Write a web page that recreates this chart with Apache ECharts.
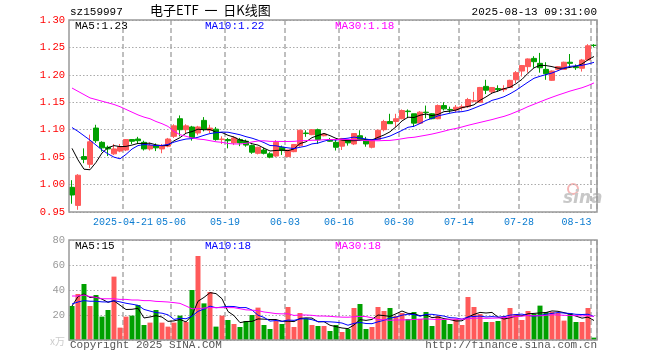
<!DOCTYPE html>
<html><head><meta charset="utf-8">
<script src="https://cdn.jsdelivr.net/npm/echarts@6/dist/echarts.min.js"></script>
<style>html,body{margin:0;padding:0;background:#fff}#c{width:660px;height:360px}</style>
</head><body><div id="c"></div>
<script>
const dates = ['2025-04-08','2025-04-09','2025-04-10','2025-04-11','2025-04-14','2025-04-15','2025-04-16','2025-04-17','2025-04-18','2025-04-21','2025-04-22','2025-04-23','2025-04-24','2025-04-25','2025-04-28','2025-04-29','2025-04-30',
'2025-05-06','2025-05-07','2025-05-08','2025-05-09','2025-05-12','2025-05-13','2025-05-14','2025-05-15','2025-05-16','2025-05-19','2025-05-20','2025-05-21','2025-05-22','2025-05-23','2025-05-26','2025-05-27','2025-05-28','2025-05-29','2025-05-30',
'2025-06-03','2025-06-04','2025-06-05','2025-06-06','2025-06-09','2025-06-10','2025-06-11','2025-06-12','2025-06-13','2025-06-16','2025-06-17','2025-06-18','2025-06-19','2025-06-20','2025-06-23','2025-06-24','2025-06-25','2025-06-26','2025-06-27','2025-06-30',
'2025-07-01','2025-07-02','2025-07-03','2025-07-04','2025-07-07','2025-07-08','2025-07-09','2025-07-10','2025-07-11','2025-07-14','2025-07-15','2025-07-16','2025-07-17','2025-07-18','2025-07-21','2025-07-22','2025-07-23','2025-07-24','2025-07-25','2025-07-28','2025-07-29','2025-07-30','2025-07-31',
'2025-08-01','2025-08-04','2025-08-05','2025-08-06','2025-08-07','2025-08-08','2025-08-11','2025-08-12','2025-08-13'];

const tickDates = ['2025-04-21','2025-05-06','2025-05-19','2025-06-03','2025-06-16','2025-06-30','2025-07-14','2025-07-28','2025-08-13'];
const tickLabels = ['2025-04-21','05-06','05-19','06-03','06-16','06-30','07-14','07-28','08-13'];

const opens  = [0.995,0.962,1.051,1.037,1.103,1.077,1.068,1.056,1.061,1.063,1.082,1.083,1.077,1.065,1.071,1.065,1.070,1.088,1.120,1.100,1.105,1.094,1.117,1.099,1.101,1.082,1.082,1.076,1.082,1.079,
1.071,1.057,1.063,1.056,1.052,1.068,1.051,1.060,1.071,1.094,1.091,1.100,1.089,1.082,1.077,1.070,1.082,1.074,1.089,1.082,1.068,1.082,1.100,1.115,1.115,1.120,1.134,1.129,1.112,1.132,
1.129,1.120,1.144,1.137,1.136,1.140,1.142,1.152,1.150,1.179,1.169,1.175,1.173,1.177,1.191,1.207,1.215,1.230,1.221,1.210,1.190,1.210,1.210,1.223,1.215,1.212,1.227,1.254];
const closes = [0.981,1.017,1.046,1.078,1.080,1.067,1.065,1.065,1.069,1.082,1.079,1.080,1.065,1.071,1.067,1.071,1.083,1.107,1.100,1.107,1.086,1.105,1.101,1.103,1.082,1.083,1.080,1.085,1.076,1.072,
1.059,1.068,1.057,1.050,1.077,1.062,1.063,1.073,1.099,1.093,1.100,1.082,1.092,1.079,1.068,1.084,1.076,1.093,1.082,1.074,1.082,1.099,1.115,1.111,1.120,1.135,1.133,1.112,1.132,1.131,
1.120,1.144,1.138,1.136,1.141,1.142,1.155,1.153,1.177,1.172,1.177,1.173,1.175,1.190,1.204,1.217,1.229,1.224,1.213,1.202,1.207,1.215,1.223,1.221,1.213,1.227,1.253,1.2535];
const lows   = [0.965,0.954,1.039,1.030,1.076,1.060,1.052,1.054,1.059,1.061,1.074,1.075,1.062,1.062,1.061,1.057,1.068,1.085,1.088,1.094,1.080,1.090,1.097,1.094,1.080,1.074,1.066,1.072,1.070,1.069,
1.056,1.055,1.055,1.048,1.050,1.054,1.050,1.059,1.069,1.087,1.090,1.074,1.088,1.078,1.062,1.063,1.071,1.072,1.080,1.069,1.066,1.081,1.097,1.111,1.105,1.119,1.121,1.105,1.111,1.121,
1.119,1.119,1.135,1.131,1.132,1.135,1.140,1.150,1.149,1.165,1.165,1.169,1.169,1.176,1.185,1.197,1.204,1.213,1.204,1.191,1.189,1.208,1.209,1.213,1.209,1.206,1.226,1.250];
const highs  = [1.008,1.019,1.066,1.091,1.109,1.079,1.071,1.074,1.074,1.083,1.083,1.087,1.080,1.077,1.075,1.074,1.085,1.110,1.126,1.110,1.107,1.107,1.123,1.109,1.105,1.088,1.085,1.088,1.085,1.082,
1.073,1.069,1.067,1.059,1.081,1.071,1.063,1.074,1.100,1.099,1.101,1.102,1.093,1.085,1.082,1.085,1.083,1.094,1.099,1.087,1.082,1.100,1.118,1.129,1.129,1.137,1.137,1.129,1.134,1.144,
1.130,1.146,1.150,1.142,1.145,1.146,1.158,1.169,1.178,1.191,1.177,1.181,1.181,1.191,1.207,1.218,1.230,1.234,1.240,1.223,1.208,1.216,1.224,1.238,1.219,1.229,1.256,1.256];

const volumes = [27.2,36.8,44.8,27.2,36,18.7,24,50.7,9.9,18.7,19.5,28,12,13.9,24,13.9,10.7,13.9,19.5,14.4,40,67.2,29.3,38.4,10.7,19.5,16,12.8,10.4,15.2,
20,25.9,12,8.8,15.2,12.8,26.4,10.4,21.6,17.3,12,11.2,11.2,7.2,12,6.4,8.8,25.6,28.8,8.8,10.4,26.4,23.2,25.6,19.2,21.6,16.8,22.4,16.8,22.4,
11.2,19.2,16,12.8,16.8,12,34.4,26.4,20.8,14.4,14.4,15.2,19.2,25.6,20.8,16,23.2,20.8,27.5,22.4,22.4,21.6,15.5,21.6,14.4,14.4,25.6,1.9];

// moving-average values read from the chart where the prior history is not shown
const ma5Head  = [1.066,1.045,1.028,1.027];
const ma10Head = [1.104,1.097,1.089,1.081,1.072,1.063,1.056,1.050,1.047];
const ma30Head = [1.176,1.170,1.164,1.158,1.155,1.152,1.149,1.146,1.142,1.137,1.132,1.127,1.123,1.120,1.115,1.111,1.106,1.097,1.091,1.088,1.085,1.083,1.082,1.080,1.078,1.077,1.075,1.074,1.074];
const vma5Head  = [27.2,34.7,36.8,34];
const vma10Head = [28.8,30.4,31.5,31,31,30.5,30.4,31.5,30.5];
const vma30Head = [35.2,35.2,36,34.7,34.1,33,33,33,32.5,32.5,32,32,31.5,31.5,30.9,30.7,30.4,29.9,29.3,27.2,25,25,25.6,25.9,25.9,25.9,25.9,25.9,25];

const RED = '#ff5a5a', GREEN = '#00a000';
const MONO = '"Liberation Mono","DejaVu Sans Mono",monospace';

function ma(src, n, head) {
  return src.map((v, i) => {
    if (i < n - 1) return head[i];
    let s = 0; for (let k = i - n + 1; k <= i; k++) s += src[k];
    return +(s / n).toFixed(4);
  });
}
const ma5 = ma(closes, 5, ma5Head), ma10 = ma(closes, 10, ma10Head), ma30 = ma(closes, 30, ma30Head);
const vma5 = ma(volumes, 5, vma5Head), vma10 = ma(volumes, 10, vma10Head), vma30 = ma(volumes, 30, vma30Head);

const kData = dates.map((d, i) => [opens[i], closes[i], lows[i], highs[i]]);
const volData = volumes.map((v, i) => ({ value: v, itemStyle: { color: closes[i] >= opens[i] ? RED : GREEN } }));

const tickIdx = tickDates.map(d => dates.indexOf(d));
const isTick = (i) => tickIdx.indexOf(i) >= 0;

const vSplit = { show: true, interval: (i) => isTick(i), lineStyle: { color: '#aaa', type: [5, 3], width: 1.5 } };
const hSplit = { show: true, lineStyle: { color: '#aaa', type: [1.5, 2], width: 1 } };

const last = a => a[a.length - 1];
const trunc2 = v => (Math.floor(v * 100 + 1e-9) / 100).toFixed(2);
const trunc0 = v => String(Math.floor(v + 1e-9));

const chart = echarts.init(document.getElementById('c'), null, { renderer: 'canvas' });
chart.setOption({
  animation: false,
  backgroundColor: '#fff',
  grid: [
    { left: 69, top: 20, width: 528, height: 192 },
    { left: 69, top: 240, width: 528, height: 100 }
  ],
  xAxis: [
    { type: 'category', gridIndex: 0, data: dates, boundaryGap: true,
      axisLine: { show: false }, axisTick: { show: false },
      axisLabel: { interval: (i) => isTick(i), margin: 5, color: '#0a7bd0', fontFamily: MONO, fontSize: 10,
        formatter: (v) => { const k = tickDates.indexOf(v); return k === tickDates.length - 1 ? '{l|' + tickLabels[k] + '}' : '{n|' + tickLabels[k] + '}'; },
        rich: { n: { color: '#0a7bd0', fontFamily: MONO, fontSize: 10, padding: [0, 6, 0, 0] },
                l: { color: '#0a7bd0', fontFamily: MONO, fontSize: 10, padding: [0, 35, 0, 0] } } },
      splitLine: vSplit },
    { type: 'category', gridIndex: 1, data: dates, boundaryGap: true,
      axisLine: { show: false }, axisTick: { show: false }, axisLabel: { show: false },
      splitLine: vSplit }
  ],
  yAxis: [
    { type: 'value', gridIndex: 0, min: 0.95, max: 1.30, interval: 0.05, scale: true,
      axisLine: { show: false }, axisTick: { show: false },
      axisLabel: { color: '#ff0000', fontFamily: MONO, fontSize: 10.5, margin: 4, formatter: v => v.toFixed(2) },
      splitLine: hSplit },
    { type: 'value', gridIndex: 1, min: 0, max: 80, interval: 20,
      axisLine: { show: false }, axisTick: { show: false },
      axisLabel: { color: '#999', fontFamily: MONO, fontSize: 10.5, margin: 4, formatter: v => v === 0 ? '' : String(v) },
      splitLine: hSplit }
  ],
  series: [
    { type: 'candlestick', xAxisIndex: 0, yAxisIndex: 0, data: kData, barWidth: 5,
      itemStyle: { color: RED, color0: GREEN, borderColor: RED, borderColor0: GREEN, borderWidth: 1 } },
    { type: 'line', xAxisIndex: 0, yAxisIndex: 0, data: ma5, symbol: 'none', lineStyle: { color: '#000', width: 1 }, z: 3 },
    { type: 'line', xAxisIndex: 0, yAxisIndex: 0, data: ma10, symbol: 'none', lineStyle: { color: '#0000ff', width: 1 }, z: 3 },
    { type: 'line', xAxisIndex: 0, yAxisIndex: 0, data: ma30, symbol: 'none', lineStyle: { color: '#ff00ff', width: 1 }, z: 3 },
    { type: 'bar', xAxisIndex: 1, yAxisIndex: 1, data: volData, barWidth: 5 },
    { type: 'line', xAxisIndex: 1, yAxisIndex: 1, data: vma5, symbol: 'none', lineStyle: { color: '#000', width: 1 }, z: 3 },
    { type: 'line', xAxisIndex: 1, yAxisIndex: 1, data: vma10, symbol: 'none', lineStyle: { color: '#0000ff', width: 1 }, z: 3 },
    { type: 'line', xAxisIndex: 1, yAxisIndex: 1, data: vma30, symbol: 'none', lineStyle: { color: '#ff00ff', width: 1 }, z: 3 }
  ],
  graphic: [
    { type: 'rect', z: 50, shape: { x: 69, y: 20, width: 528, height: 192 }, style: { fill: 'none', stroke: '#999', lineWidth: 1.5 } },
    { type: 'rect', z: 50, shape: { x: 69, y: 240, width: 528, height: 100 }, style: { fill: 'none', stroke: '#999', lineWidth: 1.5 } },
    { type: 'text', left: 70, top: 7, style: { text: 'sz159997', font: '11px ' + MONO, fill: '#000' } },
    { type: 'text', left: 150, top: 4, style: { text: '电子ETF  一  日K线图', font: '13px "Noto Sans CJK SC"', fill: '#000' } },
    { type: 'text', right: 63, top: 7, style: { text: '2025-08-13 09:31:00', font: '11px ' + MONO, fill: '#000' } },
    { type: 'text', left: 75, top: 21, z: 60, style: { text: 'MA5:' + trunc2(last(ma5)), font: '11px ' + MONO, fill: '#000' } },
    { type: 'text', left: 205, top: 21, z: 60, style: { text: 'MA10:' + trunc2(last(ma10)), font: '11px ' + MONO, fill: '#0000ff' } },
    { type: 'text', left: 335, top: 21, z: 60, style: { text: 'MA30:' + trunc2(last(ma30)), font: '11px ' + MONO, fill: '#ff00ff' } },
    { type: 'text', left: 75, top: 241, z: 60, style: { text: 'MA5:' + trunc0(last(vma5)), font: '11px ' + MONO, fill: '#000' } },
    { type: 'text', left: 205, top: 241, z: 60, style: { text: 'MA10:' + trunc0(last(vma10)), font: '11px ' + MONO, fill: '#0000ff' } },
    { type: 'text', left: 335, top: 241, z: 60, style: { text: 'MA30:' + trunc0(last(vma30)), font: '11px ' + MONO, fill: '#ff00ff' } },
    { type: 'text', left: 50, top: 336, style: { text: 'x万', font: '10px "Noto Sans CJK SC"', fill: '#ccc' } },
    { type: 'text', left: 70, top: 340, style: { text: 'Copyright 2025 SINA.COM', font: '11px ' + MONO, fill: '#555' } },
    { type: 'text', right: 63, top: 340, style: { text: 'http://finance.sina.com.cn', font: '11px ' + MONO, fill: '#555' } },
    { type: 'circle', shape: { cx: 573, cy: 189, r: 5 }, style: { fill: 'none', stroke: '#f5b5b5', lineWidth: 2 } },
    { type: 'text', left: 563, top: 190, style: { text: 'sina', font: 'italic bold 17px "DejaVu Sans"', fill: '#c8c8c8' } }
  ]
});
</script></body></html>
